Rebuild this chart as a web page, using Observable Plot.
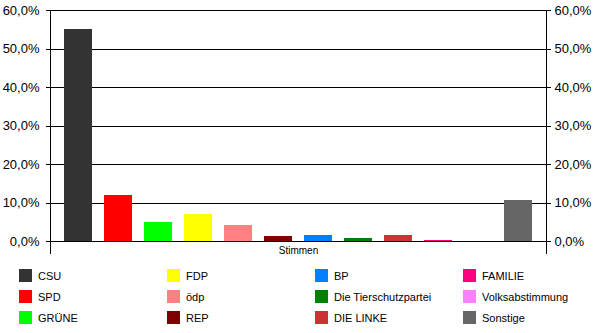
<!DOCTYPE html>
<html>
<head>
<meta charset="utf-8">
<script src="https://cdn.jsdelivr.net/npm/d3@7"></script>
<script src="https://cdn.jsdelivr.net/npm/@observablehq/plot@0.6"></script>
<style>
  html, body { margin: 0; padding: 0; background: #fff; }
  #wrap { position: relative; width: 600px; height: 333px; font-family: "Liberation Sans", Arial, sans-serif; }
  #legend {
    position: absolute; left: 19px; top: 265px;
    display: grid; grid-auto-flow: column;
    grid-template-rows: repeat(3, 21px);
    grid-template-columns: repeat(4, 148px);
    font-size: 11px; color: #000;
  }
  .item { display: flex; align-items: center; }
  .sw { width: 13px; height: 13px; margin-right: 6px; flex: none; }
</style>
</head>
<body>
<div id="wrap"><div id="chart"></div><div id="legend"></div></div>
<script>
const parties = ["CSU", "SPD", "GRÜNE", "FDP", "ödp", "REP", "BP", "Die Tierschutzpartei", "DIE LINKE", "FAMILIE", "Volksabstimmung", "Sonstige"];
const shares = [55.1, 12.0, 5.0, 7.0, 4.2, 1.4, 1.6, 0.9, 1.6, 0.3, 0.0, 10.7];
const colors = ["#333333", "#ff0000", "#00ff00", "#ffff00", "#ff8080", "#800000", "#0080ff", "#008000", "#cc3333", "#ff0080", "#ff80ff", "#666666"];
const yTicks = [0, 10, 20, 30, 40, 50, 60];
const xLabel = "Stimmen";

const data = parties.map((p, i) => ({party: p, share: shares[i]}));
const fmt = v => v.toFixed(1).replace(".", ",") + "%";

const chart = Plot.plot({
  width: 600,
  height: 262,
  marginTop: 10,
  marginBottom: 21,
  marginLeft: 50,
  marginRight: 54,
  style: {fontFamily: "'Liberation Sans', Arial, sans-serif", background: "#fff", color: "#000"},
  x: {domain: parties, paddingInner: 0.3, paddingOuter: 0.35, axis: null},
  y: {domain: [0, 60], axis: null},
  color: {domain: parties, range: colors},
  marks: [
    Plot.ruleY(yTicks, {stroke: "#000", strokeWidth: 1, shapeRendering: "crispEdges"}),
    Plot.barY(data, {x: "party", y: "share", fill: "party", shapeRendering: "crispEdges"}),
    Plot.frame({anchor: "left", stroke: "#000", insetBottom: -12, shapeRendering: "crispEdges"}),
    Plot.frame({anchor: "right", stroke: "#000", insetBottom: -12, shapeRendering: "crispEdges"}),
    Plot.axisY({anchor: "left", ticks: yTicks, tickFormat: fmt, tickSize: 4, tickPadding: 7, label: null, fontSize: 13, stroke: "#000", shapeRendering: "crispEdges"}),
    Plot.axisY({anchor: "right", ticks: yTicks, tickFormat: fmt, tickSize: 4, tickPadding: 4, label: null, fontSize: 13, stroke: "#000", shapeRendering: "crispEdges"}),
    Plot.text([xLabel], {frameAnchor: "bottom", dy: 12, fontSize: 10, fill: "#000"})
  ]
});
document.getElementById("chart").appendChild(chart);

const legend = document.getElementById("legend");
parties.forEach((p, i) => {
  const it = document.createElement("div");
  it.className = "item";
  const sw = document.createElement("span");
  sw.className = "sw";
  sw.style.background = colors[i];
  const lb = document.createElement("span");
  lb.textContent = p;
  it.appendChild(sw); it.appendChild(lb);
  legend.appendChild(it);
});
</script>
</body>
</html>
